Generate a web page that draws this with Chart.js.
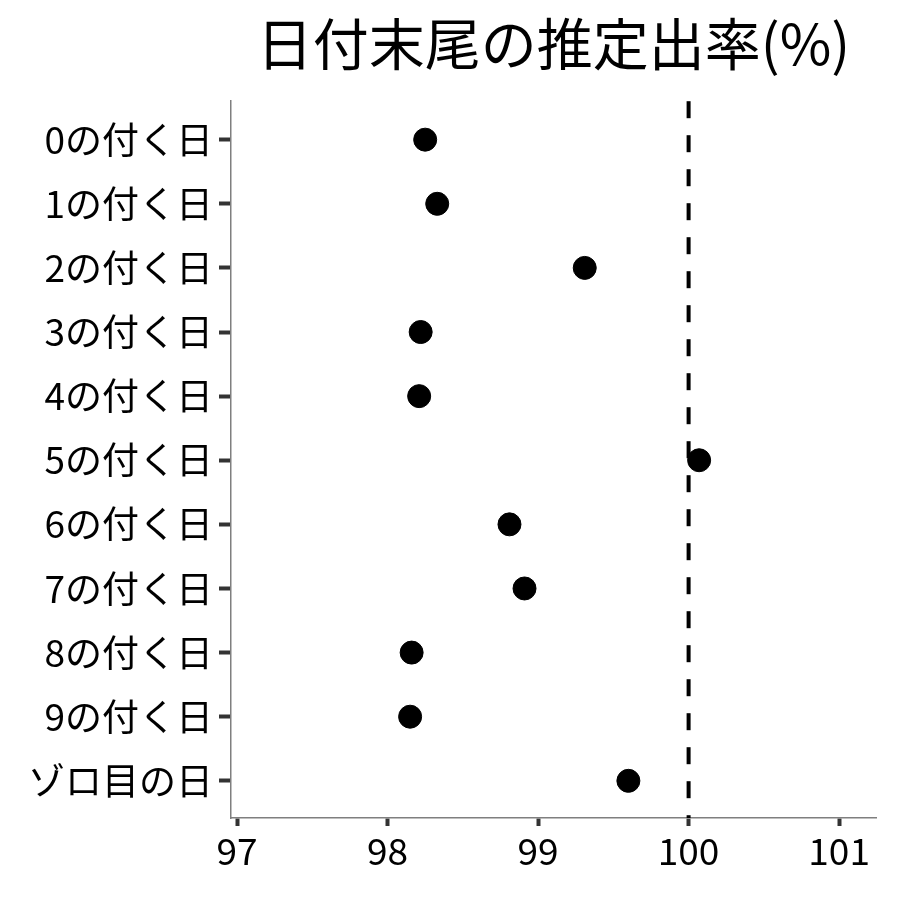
<!DOCTYPE html>
<html>
<head>
<meta charset="utf-8">
<script src="https://cdn.jsdelivr.net/npm/chart.js@4"></script>
<style>
  html, body { margin: 0; padding: 0; background: #fff; }
  #wrap { width: 900px; height: 900px; }
</style>
</head>
<body>
<div id="wrap"><canvas id="chart" width="900" height="900"></canvas></div>
<script>
// ------------------------------------------------------------
// Data
// ------------------------------------------------------------
var CATEGORIES = [
	'0の付く日', '1の付く日', '2の付く日', '3の付く日', '4の付く日',
	'5の付く日', '6の付く日', '7の付く日', '8の付く日', '9の付く日',
	'ゾロ目の日'
];
var RATES = [ 98.25, 98.33, 99.31, 98.22, 98.21, 100.07, 98.81, 98.91, 98.16, 98.15, 99.6 ];
var X_TICKS = [ 97, 98, 99, 100, 101 ];
var REF_VALUE = 100;

var FONT = '"Noto Sans CJK JP", "Noto Sans", sans-serif';

// dashed reference line at 100%
var refLine = {
	id: 'refLine',
	afterDatasetsDraw: function ( chart ) {
		var x = chart.scales.x.getPixelForValue( REF_VALUE );
		var area = chart.chartArea;
		var ctx = chart.ctx;
		ctx.save();
		ctx.strokeStyle = '#000';
		ctx.lineWidth = 4;
		ctx.setLineDash( [ 17, 17 ] );
		ctx.beginPath();
		ctx.moveTo( x, area.top );
		ctx.lineTo( x, area.bottom );
		ctx.stroke();
		ctx.restore();
	}
};

new Chart( document.getElementById( 'chart' ), {
	type: 'scatter',
	data: {
		datasets: [ {
			data: RATES.map( function ( v, i ) { return { x: v, y: i }; } ),
			backgroundColor: '#000',
			borderColor: '#000',
			pointRadius: 11.5,
			pointHoverRadius: 11.5,
		} ]
	},
	options: {
		responsive: false,
		animation: false,
		devicePixelRatio: 1,
		layout: { padding: { left: 0, right: 24, top: 0, bottom: 0 } },
		plugins: {
			legend: { display: false },
			tooltip: { enabled: false },
			title: {
				display: true,
				fullSize: false,
				text: '日付末尾の推定出率(%)',
				color: '#000',
				font: { family: FONT, size: 56, weight: 'normal' },
				padding: { top: 10, bottom: 24 },
				align: 'center',
			},
		},
		scales: {
			x: {
				type: 'linear',
				min: 96.96,
				max: 101.245,
				afterBuildTicks: function ( s ) {
					s.ticks = X_TICKS.map( function ( v ) { return { value: v }; } );
				},
				afterFit: function ( s ) { s.height = 82; },
				border: { display: true, color: '#7f7f7f', width: 1.5 },
				grid: {
					display: true, drawOnChartArea: false,
					tickLength: 8, tickColor: '#333', tickWidth: 4,
				},
				ticks: {
					color: '#000', padding: 3,
					font: { family: FONT, size: 37 },
					callback: function ( v ) { return v; },
				},
			},
			y: {
				type: 'linear',
				reverse: true,
				min: -0.6,
				max: 10.58,
				afterBuildTicks: function ( s ) {
					s.ticks = CATEGORIES.map( function ( c, i ) { return { value: i }; } );
				},
				afterFit: function ( s ) { s.width = 231; },
				border: { display: true, color: '#7f7f7f', width: 1.5 },
				grid: {
					display: true, drawOnChartArea: false,
					tickLength: 12, tickColor: '#333', tickWidth: 4,
				},
				ticks: {
					color: '#000', padding: 6,
					font: { family: FONT, size: 37 },
					callback: function ( v ) { return CATEGORIES[ v ]; },
				},
			},
		},
	},
	plugins: [ refLine ],
} );
</script>
</body>
</html>
